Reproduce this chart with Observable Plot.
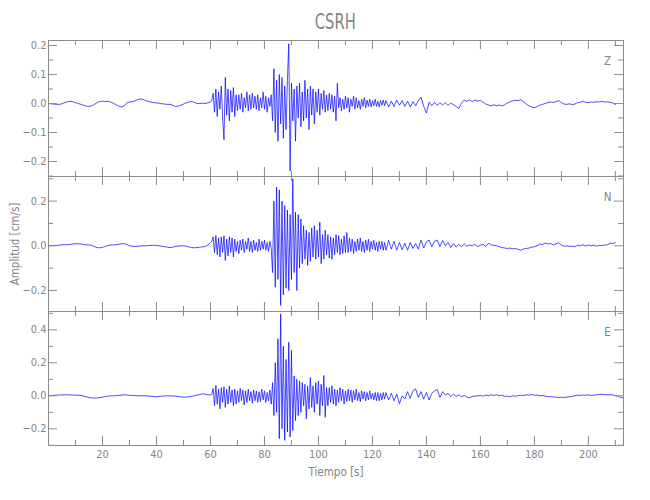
<!DOCTYPE html>
<html><head><meta charset="utf-8">
<script src="https://cdn.jsdelivr.net/npm/d3@7"></script>
<script src="https://cdn.jsdelivr.net/npm/@observablehq/plot@0.6"></script>
<style>
body{margin:0;background:#fff;}
#wrap{position:relative;width:650px;height:500px;overflow:hidden;background:#fff;font-family:"Liberation Sans Narrow","DejaVu Sans Condensed",sans-serif;}
#wrap svg{position:absolute;left:0;background:transparent;overflow:visible;}
#title{position:absolute;top:12px;left:10.5px;width:650px;text-align:center;font-size:21px;line-height:21px;color:#858585;}
#title span{display:inline-block;transform:scaleX(0.78);}
</style></head><body>
<div id="wrap"><div id="title"><span>CSRH</span></div></div>
<script>
const FONT = '"Liberation Sans Narrow","DejaVu Sans Condensed",sans-serif';
const TEXT = "#858585";
const GRAY = "#8c8c8c";

const components = ["Z", "N", "E"];
const xLabel = "Tiempo [s]";
const yLabel = "Amplitud [cm/s]";
const xMajor = [20, 40, 60, 80, 100, 120, 140, 160, 180, 200];
const xMinor = [10, 30, 50, 70, 90, 110, 130, 150, 170, 190, 210];
const zMajor = [-0.2, -0.1, 0.0, 0.1, 0.2];
const zMinor = [-0.25, -0.15, -0.05, 0.05, 0.15];
const nMajor = [-0.2, 0.0, 0.2];
const nMinor = [-0.1, 0.1, 0.3];
const eMajor = [-0.2, 0.0, 0.2, 0.4];
const eMinor = [-0.3, -0.1, 0.1, 0.3, 0.5];

const preStart = 0, actStart = 60, postStart = 125;

const zPre = [0, -0.001, -0.002, -0.003, -0.003, -0.001, 0.003, 0.006, 0.008, 0.006,
  0.003, 0.0, -0.003, -0.006, -0.009, -0.010, -0.008, -0.003, 0.003, 0.007,
  0.008, 0.007, 0.007, 0.005, 0.001, -0.004, -0.009, -0.012, -0.008, 0.002,
  0.005, 0.006, 0.009, 0.013, 0.016, 0.014, 0.010, 0.007, 0.005, 0.003,
  0.002, 0.001, -0.001, -0.002, -0.003, -0.003, -0.006, -0.010, -0.009, -0.006,
  -0.002, 0.002, 0.005, 0.007, 0.004, 0.0, 0.0, 0.001, 0.0, 0.002];
const zAct = [0.005, 0.012,
  0.035, -0.03, 0.05, -0.045, 0.04, -0.02, 0.06, -0.05,
  -0.125, 0.09,
  -0.04, 0.05, -0.06, 0.045, -0.03, 0.055, -0.045, 0.03,
  -0.025, 0.03, -0.02, 0.035, -0.03, 0.02, -0.015, 0.04, -0.025, 0.03, -0.02, 0.035, -0.015, 0.025,
  -0.02, 0.03, -0.025, 0.02, -0.015, 0.04, -0.02, 0.025, -0.03, 0.02, -0.01, 0.03,
  -0.06, 0.12, -0.1, 0.08, -0.13, 0.1, -0.07, 0.09, -0.12, 0.06, -0.09, 0.08,
  0.206, -0.233,
  0.07, -0.06, 0.05, -0.13, 0.06, -0.05, 0.07, -0.08, 0.04, -0.06, 0.08, -0.05, 0.05, -0.09, 0.06, -0.04, 0.05, -0.07,
  0.04, -0.03, 0.05, -0.04, 0.035, -0.02, 0.045, -0.03, 0.03, -0.025, 0.035, -0.02, 0.03, -0.03, 0.025, -0.06, 0.07, -0.015,
  0.02, -0.025, 0.015, -0.02, 0.025, -0.015, 0.02, -0.03, 0.015, -0.01, 0.025, -0.02, 0.02, -0.015, 0.01, -0.02, 0.015,
  -0.01, 0.02, -0.015, 0.012, -0.01, 0.015, -0.012, 0.01, -0.008, 0.015, -0.01, 0.008, -0.012, 0.01, -0.006, 0.012, -0.008];
const zPost = [0.01, -0.012, 0.008, -0.01, 0.012, -0.006, 0.01, -0.01, 0.008, -0.012, 0.006, -0.008, 0.01,
  0.022, -0.01, -0.033, 0.005, -0.008, 0.004, -0.006, 0.002, -0.005, 0.003, -0.006, 0.001, -0.004,
  -0.01, -0.018, 0.002, 0.012, 0.007, 0.013, 0.006, 0.012, 0.008, 0.011,
  0.004, -0.002, -0.005, -0.008, -0.004, -0.008, -0.005, -0.009, -0.004, 0.002,
  0.006, 0.009, 0.011, 0.01, 0.013, 0.006, -0.002, -0.008, -0.012, -0.015,
  -0.01, -0.006, -0.003, 0.0, 0.003, 0.005, 0.004, 0.006, 0.01, 0.003,
  -0.002, -0.003, -0.001, -0.004, -0.002, 0.003, 0.005, 0.008, 0.004, 0.003,
  0.005, 0.004, 0.006, 0.005, 0.007, 0.005, 0.006, 0.004, 0.002, -0.003];

const nPre = [0, 0.001, 0.002, 0.002, 0.003, 0.004, 0.005, 0.005, 0.006, 0.008,
  0.009, 0.009, 0.008, 0.006, 0.004, 0.004, 0.002, -0.004, -0.008, -0.009,
  -0.007, -0.003, 0.001, 0.003, 0.004, 0.005, 0.007, 0.009, 0.01, 0.006,
  0.001, -0.002, -0.003, -0.002, -0.001, 0.0, 0.0, 0.001, 0.002, 0.002,
  0.002, 0.0, -0.002, -0.004, -0.006, -0.008, -0.006, -0.003, -0.001, 0.0,
  0.0, -0.002, -0.005, -0.008, -0.009, -0.008, -0.006, -0.005, -0.003, 0.003];
const nAct = [0.014, 0.02,
  0.04, -0.03, 0.046, -0.04, 0.035, -0.05, 0.04, -0.03,
  0.045, -0.065, 0.03, -0.045, 0.04, -0.03, 0.035, -0.05,
  0.03, -0.025, 0.02, -0.035, 0.025, -0.02, 0.03, -0.03, 0.02, -0.015, 0.035, -0.025, 0.02, -0.03,
  0.025, -0.02, 0.015, -0.025, 0.03, -0.02, 0.02, -0.015, 0.025, -0.02, 0.015, -0.025, 0.02, -0.01,
  -0.12, 0.2, -0.185, 0.262, -0.15, 0.25, -0.267, 0.2, -0.22, 0.18, -0.19, 0.16, -0.2, 0.14, -0.15, 0.3,
  -0.12, 0.15, -0.2, 0.14, -0.1, 0.12,
  -0.08, 0.09, -0.06, 0.07, -0.088, 0.06, -0.07, 0.08, -0.05, 0.09, -0.06, 0.07, -0.05, 0.106, -0.08, 0.05, -0.06, 0.07,
  -0.04, 0.05, -0.055, 0.04, -0.06, 0.035, -0.04, 0.05, -0.03, 0.045, -0.04, 0.03, -0.035, 0.045, -0.03, 0.06,
  -0.03, 0.035, -0.025, 0.03, -0.035, 0.02, -0.025, 0.03, -0.02, 0.035, -0.025, 0.02, -0.03, 0.025,
  -0.02, 0.03, -0.025, 0.02, -0.015, 0.025, -0.02, 0.015, -0.025, 0.02, -0.015, 0.02, -0.02, 0.015];
const nPost = [-0.02, 0.025, -0.015, 0.02, -0.02, 0.015, -0.018, 0.012, -0.02, 0.015,
  -0.012, 0.01, -0.015, 0.026, -0.01, 0.018, 0.026, -0.005, 0.02, 0.026,
  -0.004, 0.024, 0.0, 0.015, -0.008, 0.01, -0.006, 0.006, -0.004, 0.008,
  -0.002, 0.004, 0.0, 0.006, -0.004, 0.003, 0.006, -0.003, 0.012, 0.004,
  0.002, 0.0, -0.004, -0.008, -0.01, -0.012, -0.01, -0.014, -0.012, -0.016,
  -0.02, -0.014, -0.012, -0.01, -0.006, -0.004, 0.0, 0.008, 0.006, 0.012,
  0.008, 0.01, 0.004, 0.009, 0.014, 0.003, -0.002, 0.0, -0.003, -0.002,
  -0.004, 0.003, 0.0, 0.005, -0.001, 0.004, 0.0, 0.003, -0.002, 0.002,
  0.0, 0.004, 0.003, 0.012, 0.01, 0.014];

const ePre = [0, 0.002, 0.003, 0.004, 0.005, 0.005, 0.006, 0.006, 0.005, 0.005,
  0.004, 0.004, 0.002, -0.002, -0.006, -0.01, -0.013, -0.014, -0.013, -0.011,
  -0.008, -0.005, -0.002, -0.001, 0.0, 0.001, 0.002, 0.004, 0.006, 0.005,
  0.003, 0.002, 0.001, 0.0, 0.0, 0.001, 0.0, -0.001, -0.003, -0.005,
  -0.006, -0.004, -0.002, -0.001, 0.0, 0.0, -0.001, -0.002, -0.004, -0.006,
  -0.008, -0.008, -0.006, -0.003, 0.0, 0.004, 0.008, 0.012, 0.01, 0.006];
const eAct = [0.005, 0.008,
  0.045, -0.06, 0.063, -0.05, 0.04, -0.079, 0.05, -0.04,
  0.055, -0.07, 0.04, -0.05, 0.06, -0.04, 0.035, -0.06,
  0.04, -0.05, 0.03, -0.04, 0.045, -0.03, 0.035, -0.055, 0.03, -0.04, 0.04, -0.03, 0.025, -0.045,
  0.035, -0.03, 0.03, -0.04, 0.025, -0.035, 0.04, -0.025, 0.03, -0.04, 0.02, -0.03, 0.035, -0.05,
  0.08, -0.12, 0.2, -0.1, 0.345, -0.26, 0.497, -0.2, 0.3, -0.27, 0.22, -0.22, 0.325, -0.25, 0.275, -0.21,
  0.12, -0.15, 0.1, -0.12, 0.09, -0.1,
  0.08, -0.06, 0.07, -0.14, 0.06, -0.08, 0.11, -0.07, 0.06, -0.1, 0.08, -0.05, 0.09, -0.12, 0.07, -0.06, 0.123, -0.13, 0.05, -0.06,
  0.05, -0.04, 0.06, -0.05, 0.04, -0.06, 0.035, -0.04, 0.05, -0.03, 0.04, -0.05, 0.03, -0.035,
  0.04, -0.03, 0.035, -0.04, 0.03, -0.025, 0.04, -0.03, 0.02, -0.035, 0.03, -0.02, 0.025, -0.03,
  0.02, -0.025, 0.03, -0.02, 0.015, -0.025, 0.02, -0.03, 0.02, -0.03, 0.015, -0.025, 0.02, -0.02];
const ePost = [0.02, -0.025, 0.015, -0.03, 0.01, -0.048, 0.0, -0.02, 0.025, -0.015,
  0.03, 0.042, -0.01, 0.025, -0.02, 0.02, -0.025, 0.015, 0.03, 0.038,
  -0.01, 0.025, 0.005, 0.015, -0.005, 0.01, -0.004, 0.006, -0.006, 0.002,
  -0.008, -0.012, -0.004, -0.002, 0.0, 0.002, -0.002, 0.004, 0.001, 0.006,
  0.002, 0.007, 0.0, 0.004, -0.004, -0.002, -0.006, 0.0, -0.003, 0.002,
  0.004, 0.002, 0.006, 0.004, 0.008, 0.003, 0.005, 0.0, 0.002, -0.002,
  -0.004, -0.005, -0.007, -0.008, -0.01, -0.009, -0.01, -0.008, -0.006, -0.004,
  0.0, 0.004, 0.002, 0.005, 0.003, 0.006, 0.002, 0.004, 0.006, 0.008,
  0.009, 0.008, 0.007, 0.006, 0.005, 0.002, -0.004, -0.01, -0.014];

function rowsOf(pre, act, post) {
  const rows = [];
  pre.forEach((v, i) => rows.push({t: preStart + i, v}));
  act.forEach((v, i) => rows.push({t: actStart + i * 0.5, v}));
  post.forEach((v, i) => rows.push({t: postStart + i, v}));
  return rows;
}

const panels = [
  {comp: components[0], rows: rowsOf(zPre, zAct, zPost), domain: [-0.2517, 0.2172], major: zMajor, minor: zMinor, top: 40, h: 136, bottom: false, ylab: false},
  {comp: components[1], rows: rowsOf(nPre, nAct, nPost), domain: [-0.2942, 0.3103], major: nMajor, minor: nMinor, top: 176, h: 135, bottom: false, ylab: true},
  {comp: components[2], rows: rowsOf(ePre, eAct, ePost), domain: [-0.3012, 0.5109], major: eMajor, minor: eMinor, top: 311, h: 134, bottom: true, ylab: false}
];

const W = 650, ML = 48, MR = 27, PW = W - ML - MR;
const fmt = d3.format(".1f");
const wrap = document.getElementById("wrap");

for (const p of panels) {
  const mt = 8, mb = p.bottom ? 52 : 8;
  const marks = [
    Plot.line(p.rows, {x: "t", y: "v", stroke: "#0000ff", strokeWidth: 0.7, clip: true}),
    Plot.frame({stroke: GRAY}),
    Plot.ruleX(xMajor, {stroke: GRAY, insetTop: p.h - 9}),
    Plot.ruleX(xMajor, {stroke: GRAY, insetBottom: p.h - 9}),
    Plot.ruleX(xMinor, {stroke: GRAY, insetTop: p.h - 5}),
    Plot.ruleX(xMinor, {stroke: GRAY, insetBottom: p.h - 5}),
    Plot.ruleY(p.major, {stroke: GRAY, insetRight: PW - 9}),
    Plot.ruleY(p.major, {stroke: GRAY, insetLeft: PW - 9}),
    Plot.ruleY(p.minor, {stroke: GRAY, insetRight: PW - 5}),
    Plot.ruleY(p.minor, {stroke: GRAY, insetLeft: PW - 5}),
    Plot.text(p.major, {y: d => d, text: d => fmt(d), frameAnchor: "left", dx: -2, textAnchor: "end", lineAnchor: "middle", fill: TEXT, fontSize: 11}),
    Plot.text([p.comp], {frameAnchor: "top-right", dx: -16, dy: 21, textAnchor: "middle", lineAnchor: "middle", fill: TEXT, fontSize: 11.5})
  ];
  if (p.ylab) {
    marks.push(Plot.text([yLabel], {frameAnchor: "left", dx: -33, rotate: -90, textAnchor: "middle", lineAnchor: "middle", fill: TEXT, fontSize: 11.5}));
  }
  if (p.bottom) {
    marks.push(Plot.text(xMajor, {x: d => d, text: d => String(d), frameAnchor: "bottom", dy: 9, textAnchor: "middle", lineAnchor: "middle", fill: TEXT, fontSize: 11}));
    marks.push(Plot.text([xLabel], {frameAnchor: "bottom", dy: 27, textAnchor: "middle", lineAnchor: "middle", fill: TEXT, fontSize: 11.5}));
  }
  const svg = Plot.plot({
    width: W, height: p.h + mt + mb,
    marginLeft: ML, marginRight: MR, marginTop: mt, marginBottom: mb,
    style: {background: "transparent", fontFamily: FONT, overflow: "visible"},
    x: {domain: [0, 213], axis: null},
    y: {domain: p.domain, axis: null},
    marks
  });
  svg.style.top = (p.top - mt) + "px";
  wrap.appendChild(svg);
}
</script>
</body></html>
